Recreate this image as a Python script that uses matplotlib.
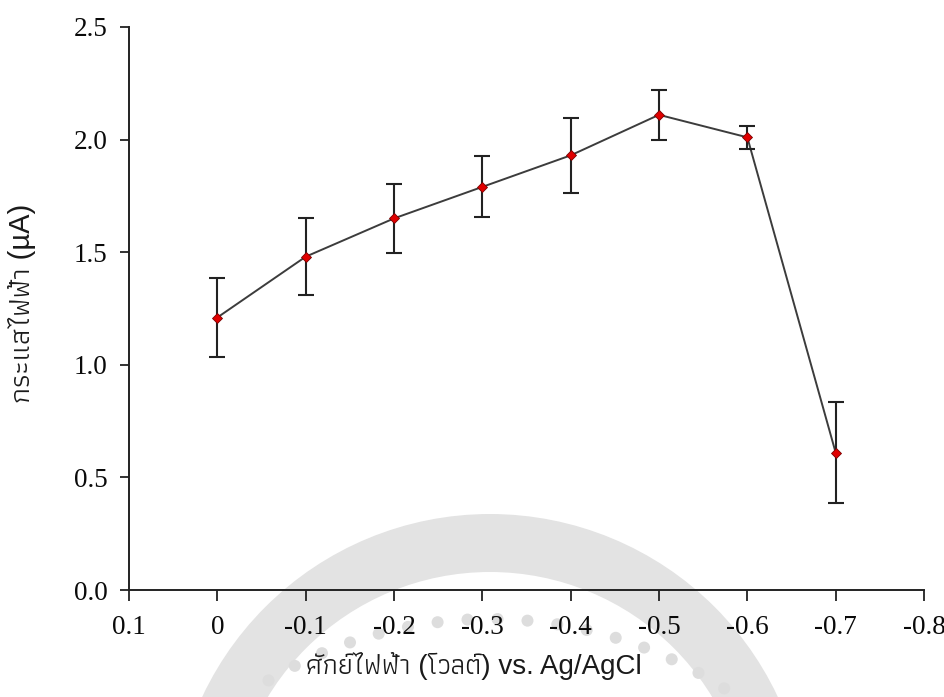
import math

import matplotlib
matplotlib.use("Agg")
import matplotlib.pyplot as plt
from matplotlib.patches import Wedge, Circle

# Peak current vs. applied potential (mean ± SD)
potential = [0.0, -0.1, -0.2, -0.3, -0.4, -0.5, -0.6, -0.7]
current = [1.21, 1.48, 1.65, 1.79, 1.93, 2.11, 2.01, 0.61]
current_sd = [0.175, 0.17, 0.155, 0.135, 0.165, 0.11, 0.05, 0.225]

x_ticks = [0.1, 0.0, -0.1, -0.2, -0.3, -0.4, -0.5, -0.6, -0.7, -0.8]
x_ticklabels = ["0.1", "0", "-0.1", "-0.2", "-0.3", "-0.4", "-0.5", "-0.6", "-0.7", "-0.8"]
y_ticks = [0.0, 0.5, 1.0, 1.5, 2.0, 2.5]

x_label = "ศักย์ไฟฟ้า (โวลต์) vs. Ag/AgCl"
y_label = "กระแสไฟฟ้า (µA)"

thai_font = ["Liberation Sans", "Athiti", "Noto Sans Thai", "DejaVu Sans"]
num_font = ["Liberation Serif", "DejaVu Serif"]

fig = plt.figure(figsize=(9.45, 6.97), dpi=100)

# faint seal in the background (pixel coordinates, y pointing down)
seal = fig.add_axes([0, 0, 1, 1], zorder=0)
seal.set_xlim(0, 945)
seal.set_ylim(697, 0)
seal.axis("off")
seal.add_patch(Wedge((490, 832), 318, 180, 360, width=58, color="#e3e3e3", lw=0))
for ang in range(57, 125, 4):
    cx = 490 + 430 * math.cos(math.radians(ang))
    cy = 1049 - 430 * math.sin(math.radians(ang))
    seal.add_patch(Circle((cx, cy), 6, color="#dddddd", lw=0))

ax = fig.add_axes([129 / 945, 1 - 590 / 697, (924 - 129) / 945, (590 - 27) / 697], zorder=1)
ax.patch.set_alpha(0)

ax.plot(potential, current, color="#3c3c3c", lw=1.4, zorder=2)
ax.errorbar(potential, current, yerr=current_sd, fmt="none", ecolor="#222222",
            elinewidth=1.5, capsize=6, capthick=1.5, zorder=3)
ax.plot(potential, current, ls="none", marker="D", ms=5.5, mfc="#e00000",
        mec="#7a0000", mew=0.6, zorder=4)

ax.set_xlim(0.1, -0.8)
ax.set_ylim(0, 2.5)
ax.set_xticks(x_ticks)
ax.set_xticklabels(x_ticklabels)
ax.set_yticks(y_ticks)
ax.set_yticklabels([f"{v:.1f}" for v in y_ticks])

for side in ("top", "right"):
    ax.spines[side].set_visible(False)
for side in ("left", "bottom"):
    ax.spines[side].set_linewidth(1.4)
    ax.spines[side].set_color("#222222")

ax.tick_params(axis="x", direction="out", length=8, width=1.3, pad=10, color="#222222")
ax.tick_params(axis="y", direction="out", length=6.5, width=1.3, pad=9, color="#222222")
for lbl in ax.get_xticklabels() + ax.get_yticklabels():
    lbl.set_family(num_font)
    lbl.set_fontsize(19.5)
    lbl.set_color("#0a0a0a")

fig.text(474 / 945, 1 - 666 / 697, x_label, ha="center", va="center",
         fontsize=20, family=thai_font, color="#1a1a1a")
fig.text(22 / 945, 1 - 303 / 697, y_label, ha="center", va="center", rotation=90,
         fontsize=21, family=thai_font, color="#1a1a1a")

fig.savefig("out.png", dpi=100)
